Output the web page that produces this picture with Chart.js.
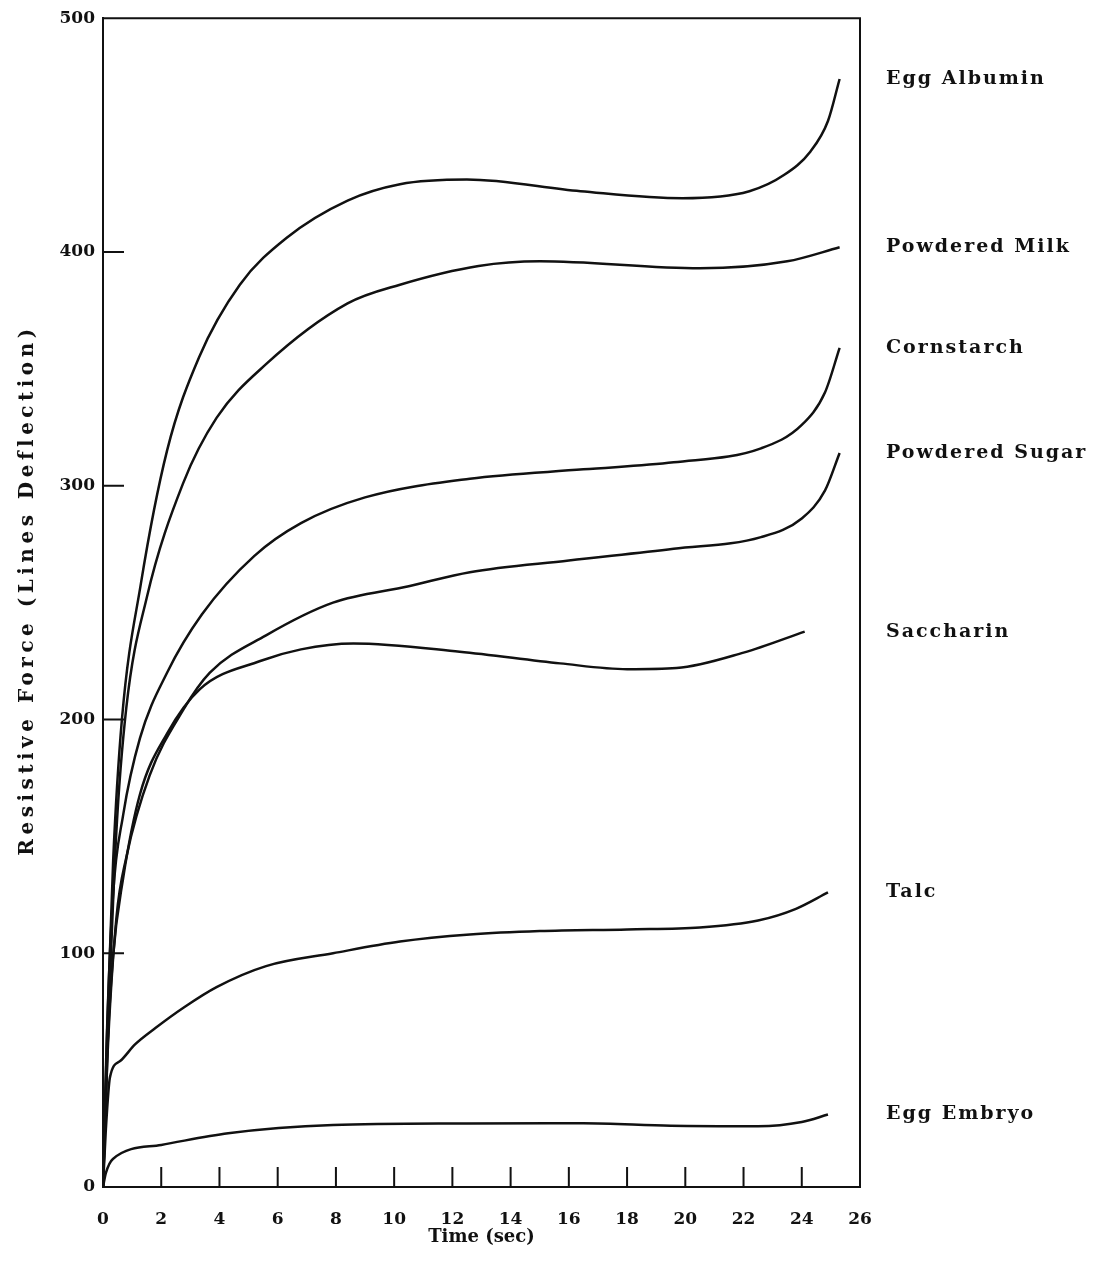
<!DOCTYPE html>
<html>
<head>
<meta charset="utf-8">
<title>Resistive Force vs Time</title>
<script src="https://cdn.jsdelivr.net/npm/chart.js@4.4.1/dist/chart.umd.min.js"></script>
<style>
    body { margin: 0; background: #fff; }
    .chart-box { width: 1104px; height: 1280px; }
</style>
</head>
<body>
<div class="chart-box"><canvas id="force-chart"></canvas></div>
<script>
// 数据
const seriesNames = ['Egg Albumin', 'Powdered Milk', 'Cornstarch', 'Powdered Sugar', 'Saccharin', 'Talc', 'Egg Embryo'];

const albuminTime = [0, 0.15, 0.35, 0.65, 1.3, 2.2, 3.3, 4.7, 6.3, 8.4, 10.2, 12.5, 16.4, 19.9, 22.2, 23.4, 24.3, 24.9, 25.3];
const albuminForce = [0, 70, 140, 200, 258, 315, 355, 386, 406, 422, 429, 431, 426, 423, 426, 433, 443, 456, 474];

const milkTime = [0, 0.2, 0.45, 0.8, 1.5, 2.75, 3.9, 5.6, 8.4, 10.2, 12.9, 15, 20.5, 23.5, 25.3];
const milkForce = [0, 75, 150, 205, 252, 301, 329, 352, 378, 386, 394, 396, 393, 396, 402];

const cornTime = [0, 0.12, 0.34, 0.69, 1.27, 2.2, 3.4, 5.2, 6.8, 9.0, 12.6, 16.5, 19.6, 22.6, 24.0, 24.8, 25.3];
const cornForce = [0, 60, 124, 159, 192, 220, 245, 270, 284, 295, 303, 307, 310, 316, 326, 340, 359];

const sugarTime = [0, 0.15, 0.46, 0.8, 1.6, 2.75, 3.67, 5.6, 7.9, 10.5, 12.6, 16, 19.6, 22.6, 24.0, 24.8, 25.3];
const sugarForce = [0, 55, 115, 141, 176, 204, 220, 236, 250, 257, 263, 268, 273, 278, 286, 298, 314];

const saccharinTime = [0, 0.12, 0.34, 0.69, 1.27, 2.2, 3.33, 5.4, 6.8, 8.6, 12.25, 15.7, 18, 19.7, 22, 24.1];
const saccharinForce = [0, 50, 98, 132, 168, 194, 213, 225, 230, 232.5, 229, 224, 221.5, 222, 228.6, 237.6];

const talcTime = [0, 0.1, 0.24, 0.6, 1.1, 1.8, 2.8, 3.9, 5.6, 7.9, 10.2, 12.6, 15, 18, 20.5, 22.5, 23.8, 24.9];
const talcForce = [0, 25, 47, 54, 61, 68, 77, 85.5, 94.5, 100, 105, 108, 109.5, 110.2, 111, 114, 119, 126];

const embryoTime = [0, 0.1, 0.34, 2.0, 4.3, 7.9, 12.5, 16.5, 19.5, 22.5, 24, 24.9];
const embryoForce = [0, 6, 12, 18, 23, 26.5, 27.2, 27.3, 26.2, 26, 27.8, 31];

const xTicks = [0, 2, 4, 6, 8, 10, 12, 14, 16, 18, 20, 22, 24, 26];
const yTicks = [0, 100, 200, 300, 400, 500];

const timeSeries = [albuminTime, milkTime, cornTime, sugarTime, saccharinTime, talcTime, embryoTime];
const forceSeries = [albuminForce, milkForce, cornForce, sugarForce, saccharinForce, talcForce, embryoForce];

const FONT = '"DejaVu Serif", serif';
const INK = '#111';

function toPoints(ts, ys) {
    return ts.map((t, i) => ({ x: t, y: ys[i] }));
}

// 边框和朝内的刻度线
const framePlugin = {
    id: 'frame',
    afterDraw(chart) {
        const { ctx, chartArea: a, scales: { x, y } } = chart;
        ctx.save();
        ctx.strokeStyle = INK;
        ctx.lineWidth = 2;
        ctx.beginPath();
        ctx.moveTo(a.left, a.top);
        ctx.lineTo(a.right, a.top);
        ctx.lineTo(a.right, a.bottom);
        x.ticks.forEach(t => {
            if (t.value > x.min && t.value < x.max) {
                const px = x.getPixelForValue(t.value);
                ctx.moveTo(px, a.bottom);
                ctx.lineTo(px, a.bottom - 20);
            }
        });
        y.ticks.forEach(t => {
            if (t.value > y.min && t.value < y.max) {
                const py = y.getPixelForValue(t.value);
                ctx.moveTo(a.left, py);
                ctx.lineTo(a.left + 21, py);
            }
        });
        ctx.stroke();
        ctx.restore();
    }
};

// 曲线右侧的名称，以及带字距的纵轴标题
const labelPlugin = {
    id: 'endLabels',
    afterDraw(chart) {
        const { ctx, chartArea: a, scales: { y } } = chart;
        ctx.save();
        ctx.fillStyle = INK;
        ctx.font = 'bold 19px ' + FONT;
        ctx.letterSpacing = '2px';
        ctx.textBaseline = 'middle';
        ctx.textAlign = 'left';
        chart.data.datasets.forEach(ds => {
            const last = ds.data[ds.data.length - 1];
            ctx.fillText(ds.label, a.right + 26, y.getPixelForValue(last.y));
        });

        ctx.font = 'bold 20px ' + FONT;
        ctx.letterSpacing = '4.5px';
        ctx.textAlign = 'center';
        ctx.translate(28, 590);
        ctx.rotate(-Math.PI / 2);
        ctx.fillText('Resistive Force (Lines Deflection)', 0, 0);
        ctx.restore();
    }
};

const chartCanvas = document.getElementById('force-chart');
new Chart(chartCanvas, {
    type: 'line',
    data: {
        datasets: seriesNames.map((name, i) => ({
            label: name,
            data: toPoints(timeSeries[i], forceSeries[i]),
            borderColor: INK,
            borderWidth: 2.5,
            pointRadius: 0,
            fill: false,
            cubicInterpolationMode: 'monotone'
        }))
    },
    options: {
        responsive: true,
        maintainAspectRatio: false,
        animation: false,
        layout: {
            padding: { top: 17, right: 244, left: 0, bottom: 0 }
        },
        plugins: {
            legend: { display: false },
            tooltip: { enabled: false }
        },
        scales: {
            x: {
                type: 'linear',
                min: xTicks[0],
                max: xTicks[xTicks.length - 1],
                afterBuildTicks: axis => { axis.ticks = xTicks.map(v => ({ value: v })); },
                afterFit: axis => { axis.height = 93; },
                grid: { display: false, drawTicks: false },
                border: { display: true, color: INK, width: 2 },
                ticks: {
                    color: INK,
                    padding: 22,
                    maxRotation: 0,
                    font: { family: FONT, size: 17, weight: 'bold' }
                },
                title: {
                    display: true,
                    text: 'Time (sec)',
                    color: INK,
                    padding: { top: 0, bottom: 32 },
                    font: { family: FONT, size: 18, weight: 'bold' }
                }
            },
            y: {
                type: 'linear',
                min: yTicks[0],
                max: yTicks[yTicks.length - 1],
                afterBuildTicks: axis => { axis.ticks = yTicks.map(v => ({ value: v })); },
                afterFit: axis => { axis.width = 103; },
                grid: { display: false, drawTicks: false },
                border: { display: true, color: INK, width: 2 },
                ticks: {
                    color: INK,
                    padding: 8,
                    font: { family: FONT, size: 17, weight: 'bold' }
                }
            }
        }
    },
    plugins: [framePlugin, labelPlugin]
});
</script>
</body>
</html>
